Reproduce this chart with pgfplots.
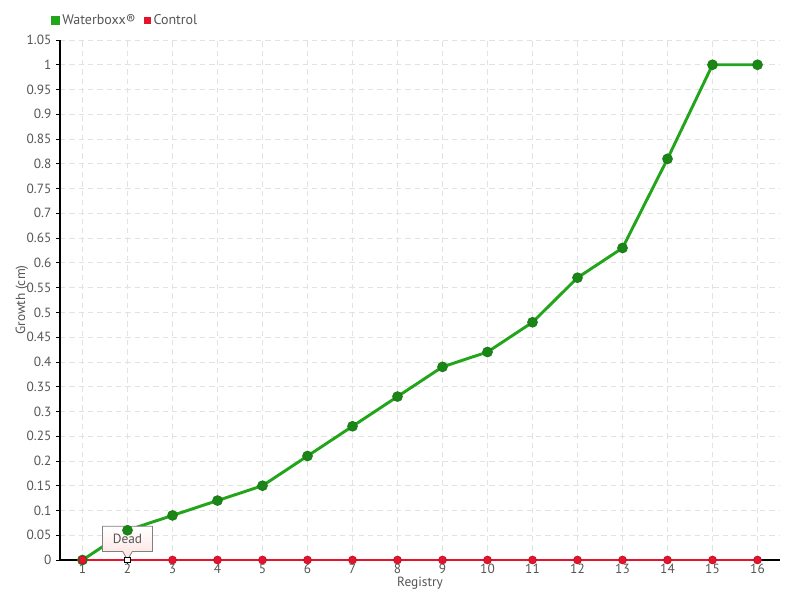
\documentclass[border=0pt]{standalone}
\usepackage{pgfplots}
\pgfplotsset{compat=1.18}
\usepackage{fontspec}
\setmainfont{PT Sans}
\usetikzlibrary{shapes.callouts}
\definecolor{wgreen}{HTML}{22A51B}
\definecolor{wgreendark}{HTML}{1A7F16}
\definecolor{cred}{HTML}{E5132B}
\definecolor{txt}{HTML}{555555}
\definecolor{gridc}{HTML}{E2E2E2}
\begin{document}
\begin{tikzpicture}
\path[use as bounding box] (0,0) rectangle (600pt,450pt);
\begin{axis}[
  at={(45pt,30pt)}, anchor=south west,
  scale only axis, width=540pt, height=390pt,
  xmin=0.5, xmax=16.5, ymin=0, ymax=1.05,
  xtick={1,...,16},
  ytick={0,0.05,...,1.06},
  yticklabels={0,0.05,0.1,0.15,0.2,0.25,0.3,0.35,0.4,0.45,0.5,0.55,0.6,0.65,0.7,0.75,0.8,0.85,0.9,0.95,1,1.05},
  axis lines*=left,
  axis line style={black, line width=0.8pt},
  tick align=outside,
  major tick length=3pt,
  tick style={black, line width=0.6pt},
  grid=major,
  major grid style={gridc, dash pattern=on 4pt off 3pt, line width=0.6pt},
  tick label style={font=\fontsize{10}{11}\selectfont, text=txt},
  xticklabel style={inner ysep=0pt},
  /pgf/number format/assume math mode=true,
  xlabel={Registry}, ylabel={Growth (cm)},
  label style={font=\fontsize{10}{11}\selectfont, text=txt},
  xlabel style={inner ysep=0pt, yshift=-2.5pt},
  ylabel style={yshift=-8pt},
  legend columns=2,
  legend style={at={(0,1)}, anchor=south west, xshift=-10pt, yshift=6pt, draw=none, fill=none,
    font=\fontsize{10.5}{12}\selectfont, text=txt,
    /tikz/every even column/.append style={column sep=4pt}},
  legend cell align=left,
  clip=false,
]
\addplot[wgreen, line width=2.2pt, mark=*, mark size=3.6pt,
  mark options={fill=wgreendark!85!wgreen, draw=wgreendark, line width=0.8pt},
  legend image code/.code={\fill[wgreen] (0pt,-2.2pt) rectangle (4.4pt,2.2pt);}]
coordinates {(1,0) (2,0.06) (3,0.09) (4,0.12) (5,0.15) (6,0.21) (7,0.27) (8,0.33) (9,0.39) (10,0.42) (11,0.48) (12,0.57) (13,0.63) (14,0.81) (15,1) (16,1)};
\addlegendentry{Waterboxx®}
\addplot[cred, line width=1.1pt, mark=*, mark size=3pt,
  mark options={fill=cred, draw=cred!80!black, line width=0.4pt},
  legend image code/.code={\fill[cred] (0pt,-2.2pt) rectangle (4.4pt,2.2pt);}]
coordinates {(1,0) (3,0) (4,0) (5,0) (6,0) (7,0) (8,0) (9,0) (10,0) (11,0) (12,0) (13,0) (14,0) (15,0) (16,0)};
\addlegendentry{Control}
\addplot[cred, line width=1.1pt, forget plot] coordinates {(1,0) (3,0)};
\addplot[only marks, mark=square*, mark size=2.2pt, mark options={fill=white, draw=black, line width=0.8pt}, forget plot]
coordinates {(2,0)};
\node[rectangle callout, draw=gray, line width=0.6pt, top color=white, bottom color=red!12,
  minimum width=37.5pt, minimum height=19pt, inner sep=2pt,
  font=\fontsize{10}{12}\selectfont, text=txt,
  callout absolute pointer={(axis cs:2,0)}]
  at ([yshift=15.8pt]axis cs:2,0) {Dead};
\end{axis}
\end{tikzpicture}
\end{document}
